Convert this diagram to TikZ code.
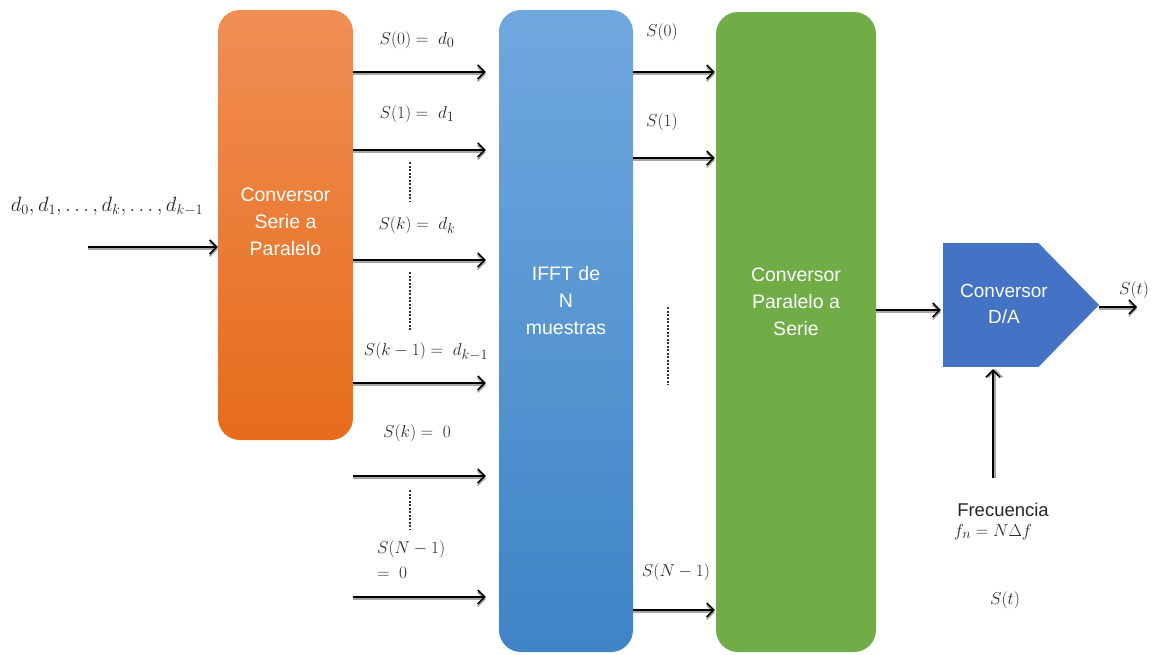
\documentclass[tikz,border=0pt]{standalone}
\usepackage{fontspec}
\setsansfont{Liberation Sans}
\usetikzlibrary{arrows.meta}

\definecolor{orTop}{RGB}{240,142,84}
\definecolor{orBot}{RGB}{230,108,26}
\definecolor{blTop}{RGB}{112,168,222}
\definecolor{blBot}{RGB}{62,132,198}
\definecolor{grn}{RGB}{112,173,71}
\definecolor{dablue}{RGB}{68,114,196}

\tikzset{
  block/.style={rounded corners=22pt, inner sep=0pt},
  btext/.style={text=white, font=\sffamily\fontsize{19.5}{27}\selectfont, align=center, inner sep=0pt},
  mlabel/.style={font=\fontsize{19}{23}\selectfont, text=black!85, inner sep=0pt},
  tip/.style={-{Straight Barb[length=7pt,width=14pt]}},
  arr/.style={line width=1.5pt, tip,
    preaction={draw=black!35, line width=1.6pt, transform canvas={yshift=-2.2pt}}},
  arrv/.style={line width=1.5pt, tip,
    preaction={draw=black!35, line width=1.6pt, transform canvas={xshift=2.2pt}}},
  dots/.style={line width=1.2pt, black!80, dash pattern=on 2pt off 1.5pt},
}

\begin{document}
\begin{tikzpicture}[x=1pt, y=-1pt]
\useasboundingbox (0,0) rectangle (1156,654);

% blocks
\node[block, top color=orTop, bottom color=orBot, minimum width=135pt, minimum height=430pt] (sp) at (285.5,225) {};
\node[btext] (spT) at (285.5,222) {Conversor\\Serie a\\Paralelo};

\node[block, top color=blTop, bottom color=blBot, minimum width=134pt, minimum height=642pt] (ifft) at (566,331) {};
\node[btext] (ifftT) at (566,301) {IFFT de\\N\\muestras};

\node[block, fill=grn, minimum width=160pt, minimum height=640pt] (par) at (796,332) {};
\node[btext] (parT) at (796,302) {Conversor\\Paralelo a\\Serie};

% D/A converter (pentagon)
\node[fill=dablue, minimum width=95pt, minimum height=124pt, inner sep=0pt] (da) at (990.5,305) {};
\coordinate (datip) at (1099,305);
\fill[dablue] (da.north east) -- (datip) -- (da.south east) -- cycle;
\node[btext, font=\sffamily\fontsize{19}{26}\selectfont] (daT) at (1004,304) {Conversor\\D/A};

% input
\node[mlabel, font=\fontsize{20}{24}\selectfont] (inL) at (107,206) {$d_0,d_1,\ldots,d_k,\ldots,d_{k-1}$};
\coordinate (in) at (88,247);
\draw[arr] (in) -- (sp.west |- in);

% serial-to-parallel outputs
\foreach \y in {72,150,260,383,476,597}
  \draw[arr, shorten >=13pt] (sp.east |- 0,\y) -- (ifft.west |- 0,\y);

\node[mlabel] (l0) at (417,40) {$S(0) =\; d_0$};
\node[mlabel] (l1) at (417,114) {$S(1) =\; d_1$};
\node[mlabel] (lk) at (417,225) {$S(k) =\; d_k$};
\node[mlabel] (lkm) at (426,352) {$S(k-1) =\; d_{k-1}$};
\node[mlabel] (lz) at (417,433) {$S(k) =\; 0$};
\node[mlabel, anchor=west] (lN) at (377,549) {$S(N-1)$};
\node[mlabel, anchor=west] (lN2) at (377,573) {$=\; 0$};

\draw[dots] (410,162) -- (410,202);
\draw[dots] (410,272) -- (410,330);
\draw[dots] (410,490) -- (410,530);

% IFFT outputs
\foreach \y in {72,158,610}
  \draw[arr, shorten >=1pt] (ifft.east |- 0,\y) -- (par.west |- 0,\y);
\node[mlabel] (r0) at (662,32) {$S(0)$};
\node[mlabel] (r1) at (662,122) {$S(1)$};
\node[mlabel] (rN) at (676,572) {$S(N-1)$};
\draw[dots] (668,307) -- (668,385);

% parallel-to-serial to D/A
\draw[arr, shorten >=2pt] (par.east |- 0,310) -- (da.west |- 0,310);
\coordinate (out) at (1137,307);
\draw[arr] (datip |- out) -- (out);
\node[mlabel] (st) at (1134,290) {$S(t)$};

% clock input
\coordinate (fq) at (993,478);
\draw[arrv, shorten >=2pt] (fq) -- (fq |- da.south);
\node[font=\sffamily\fontsize{18.5}{22}\selectfont, text=black!85, inner sep=0pt] (fqT) at (1003,510) {Frecuencia};
\node[mlabel] (fqM) at (993,532) {$f_n = N\Delta f$};
\node[mlabel] (st2) at (1005,600) {$S(t)$};
\end{tikzpicture}
\end{document}
